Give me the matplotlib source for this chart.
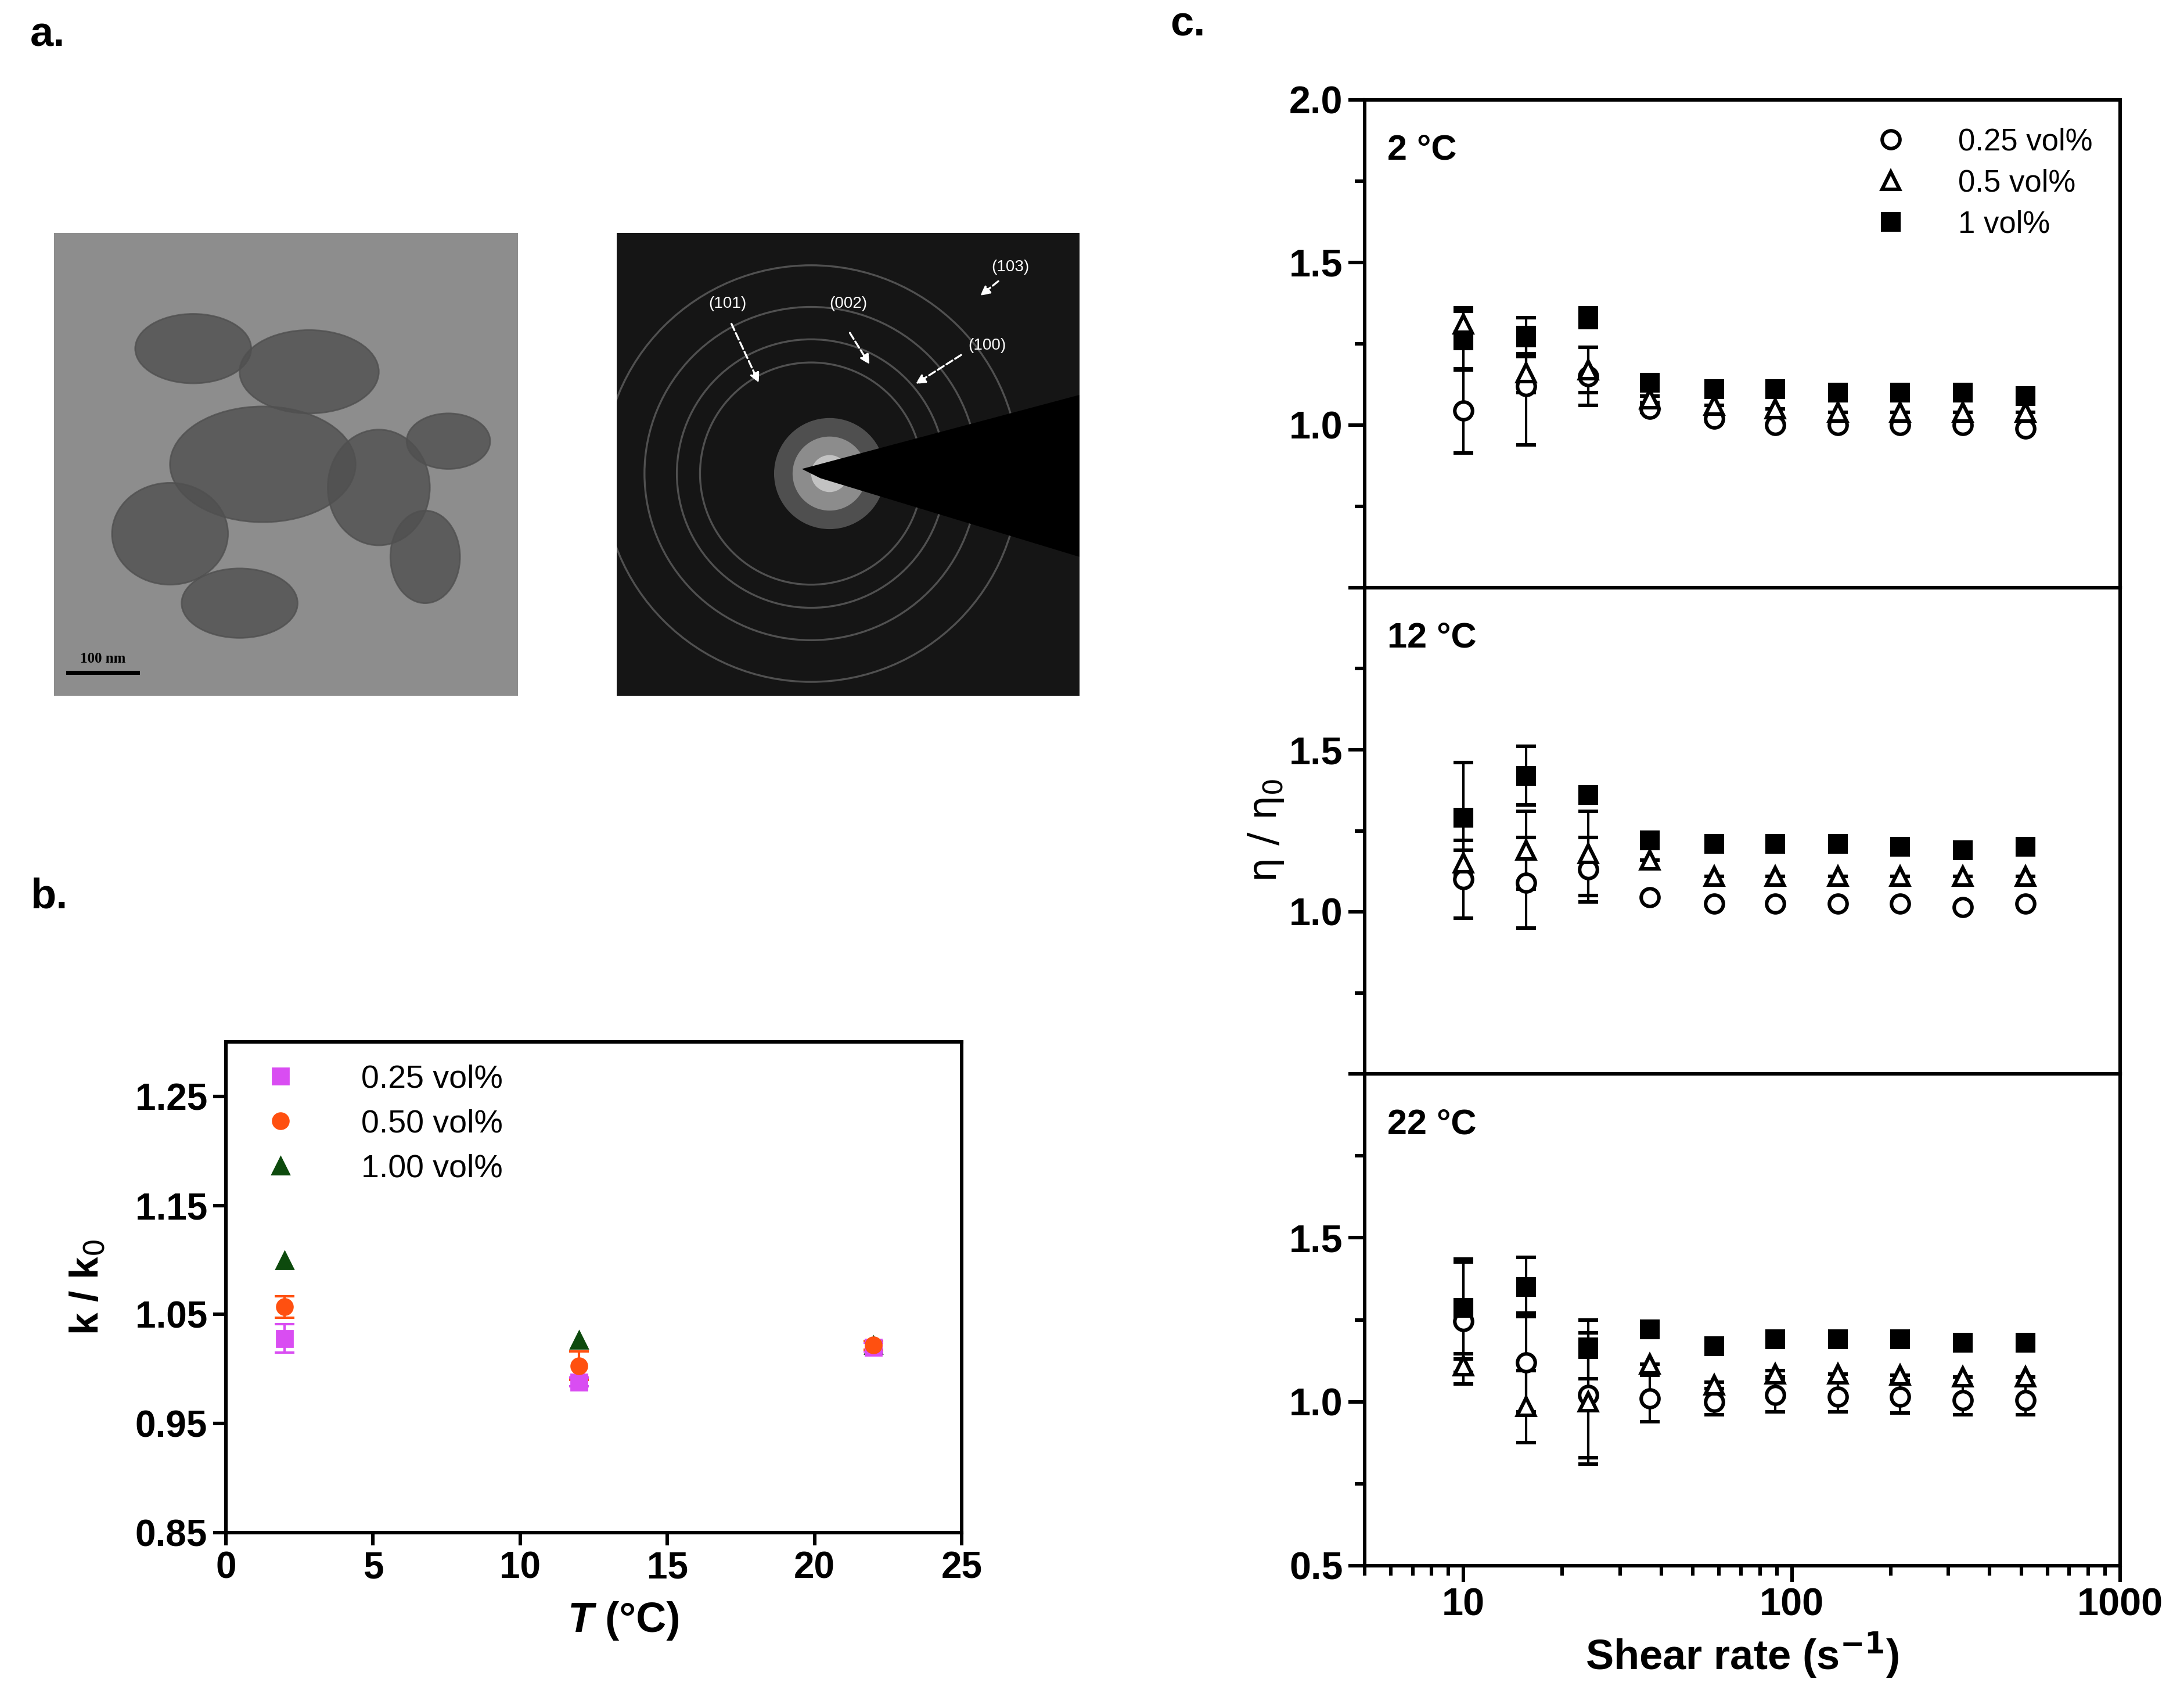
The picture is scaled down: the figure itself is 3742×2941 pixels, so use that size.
import numpy as np
import matplotlib
matplotlib.use('Agg')
import matplotlib.pyplot as plt
import matplotlib.patches as mpatches
from matplotlib.lines import Line2D
from matplotlib.ticker import FixedLocator, NullFormatter, NullLocator

plt.rcParams.update({
    'font.family': ['Liberation Sans Narrow', 'Liberation Sans', 'DejaVu Sans'],
    'axes.linewidth': 2.2,
})

W, H, DPI = 3742, 2941, 200

# ---------------------------------------------------------------------------
# Data: panel b (thermal conductivity ratio)
# ---------------------------------------------------------------------------
temps = [2, 12, 22]
k_025 = [1.028, 0.988, 1.020]
k_025_err = [0.013, 0.004, 0.004]
k_050 = [1.057, 1.003, 1.022]
k_050_err = [0.010, 0.013, 0.004]
k_100 = [1.100, 1.027, 1.022]
k_labels = ['0.25 vol%', '0.50 vol%', '1.00 vol%']

# ---------------------------------------------------------------------------
# Data: panel c (relative viscosity vs shear rate)
# ---------------------------------------------------------------------------
shear = [10, 15.5, 24, 37, 58, 89, 138, 214, 332, 515]
temp_labels = ['2 \u00b0C', '12 \u00b0C', '22 \u00b0C']
conc_labels = ['0.25 vol%', '0.5 vol%', '1 vol%']

eta_025 = [
    [1.044, 1.12, 1.15, 1.05, 1.02, 1.00, 1.00, 1.00, 1.00, 0.99],
    [1.10, 1.09, 1.13, 1.045, 1.025, 1.025, 1.025, 1.025, 1.015, 1.025],
    [1.245, 1.12, 1.02, 1.01, 1.00, 1.02, 1.015, 1.015, 1.005, 1.005],
]
eta_025_err = [
    [0.13, 0.18, 0.09, 0.01, 0.01, 0.0, 0.0, 0.0, 0.0, 0.0],
    [0.12, 0.14, 0.10, 0.0, 0.0, 0.0, 0.0, 0.0, 0.0, 0.0],
    [0.19, 0.15, 0.19, 0.07, 0.04, 0.05, 0.045, 0.05, 0.045, 0.045],
]
eta_050 = [
    [1.31, 1.16, 1.17, 1.08, 1.06, 1.05, 1.04, 1.04, 1.04, 1.04],
    [1.15, 1.19, 1.18, 1.16, 1.11, 1.11, 1.11, 1.11, 1.11, 1.11],
    [1.11, 0.985, 1.00, 1.115, 1.05, 1.085, 1.085, 1.08, 1.075, 1.075],
]
eta_050_err = [
    [0.05, 0.06, 0.07, 0.01, 0.0, 0.0, 0.0, 0.0, 0.0, 0.0],
    [0.04, 0.12, 0.13, 0.0, 0.0, 0.0, 0.0, 0.0, 0.0, 0.0],
    [0.02, 0.11, 0.19, 0.0, 0.01, 0.01, 0.0, 0.0, 0.0, 0.0],
]
eta_100 = [
    [1.26, 1.27, 1.33, 1.13, 1.11, 1.11, 1.10, 1.10, 1.10, 1.09],
    [1.29, 1.42, 1.36, 1.22, 1.21, 1.21, 1.21, 1.20, 1.19, 1.20],
    [1.287, 1.35, 1.16, 1.22, 1.17, 1.19, 1.19, 1.19, 1.18, 1.18],
]
eta_100_err = [
    [0.09, 0.06, 0.03, 0.0, 0.0, 0.0, 0.0, 0.0, 0.0, 0.0],
    [0.17, 0.09, 0.0, 0.0, 0.0, 0.01, 0.0, 0.0, 0.0, 0.0],
    [0.14, 0.09, 0.09, 0.0, 0.0, 0.0, 0.0, 0.0, 0.0, 0.0],
]

# diffraction ring labels
ring_labels = ['(101)', '(002)', '(100)', '(103)']


def fig_rect(x0, y0, x1, y1):
    """pixel box (top-left origin) -> figure fraction rect"""
    return [x0 / W, 1 - y1 / H, (x1 - x0) / W, (y1 - y0) / H]


fig = plt.figure(figsize=(W / DPI, H / DPI), dpi=DPI)

# ---------------------------------------------------------------------------
# Panel a: micrograph placeholders
# ---------------------------------------------------------------------------
ax_tem = fig.add_axes(fig_rect(93, 401, 892, 1198))
ax_tem.set_xlim(0, 1)
ax_tem.set_ylim(0, 1)
ax_tem.add_patch(mpatches.Rectangle((0, 0), 1, 1, color='#8d8d8d'))
blobs = [(0.30, 0.75, 0.25, 0.15), (0.55, 0.70, 0.30, 0.18), (0.45, 0.50, 0.40, 0.25),
         (0.25, 0.35, 0.25, 0.22), (0.70, 0.45, 0.22, 0.25), (0.40, 0.20, 0.25, 0.15),
         (0.80, 0.30, 0.15, 0.20), (0.85, 0.55, 0.18, 0.12)]
for bx, by, bw, bh in blobs:
    ax_tem.add_patch(mpatches.Ellipse((bx, by), bw, bh, color='#505050', alpha=0.8))
ax_tem.plot([0.03, 0.18], [0.05, 0.05], color='black', lw=2.5)
ax_tem.text(0.105, 0.065, '100 nm', ha='center', va='bottom', fontsize=9,
            family='Liberation Serif', fontweight='bold')
ax_tem.set_xticks([])
ax_tem.set_yticks([])
for s in ax_tem.spines.values():
    s.set_visible(False)

ax_saed = fig.add_axes(fig_rect(1062, 401, 1859, 1198))
ax_saed.set_xlim(0, 1)
ax_saed.set_ylim(0, 1)
ax_saed.set_facecolor('#151515')
cx, cy = 0.42, 0.48
for r, a in [(0.12, 0.5), (0.08, 0.7), (0.04, 0.95)]:
    ax_saed.add_patch(mpatches.Circle((cx + 0.04, cy), r, color='white', alpha=a * 0.5, lw=0))
for r in [0.24, 0.29, 0.36, 0.45]:
    ax_saed.add_patch(mpatches.Circle((cx, cy), r, fill=False, ec='#6a6a6a', lw=1.2, alpha=0.7))
ax_saed.add_patch(mpatches.Polygon([(0.40, 0.49), (1.0, 0.65), (1.0, 0.30), (0.44, 0.47)],
                                   closed=True, color='black', lw=0))
arrow_kw = dict(arrowstyle='-|>', color='white', lw=1.2, linestyle='--', mutation_scale=12)
ax_saed.annotate('', xy=(0.31, 0.67), xytext=(0.245, 0.81), arrowprops=arrow_kw)
ax_saed.annotate('', xy=(0.55, 0.71), xytext=(0.50, 0.79), arrowprops=arrow_kw)
ax_saed.annotate('', xy=(0.64, 0.67), xytext=(0.75, 0.74), arrowprops=arrow_kw)
ax_saed.annotate('', xy=(0.78, 0.86), xytext=(0.83, 0.90), arrowprops=arrow_kw)
txt_kw = dict(color='white', fontsize=10, ha='center', va='bottom', family='Liberation Sans')
ax_saed.text(0.24, 0.83, ring_labels[0], **txt_kw)
ax_saed.text(0.50, 0.83, ring_labels[1], **txt_kw)
ax_saed.text(0.80, 0.74, ring_labels[2], **txt_kw)
ax_saed.text(0.85, 0.91, ring_labels[3], **txt_kw)
ax_saed.set_xticks([])
ax_saed.set_yticks([])
for s in ax_saed.spines.values():
    s.set_visible(False)

# ---------------------------------------------------------------------------
# Panel b
# ---------------------------------------------------------------------------
axb = fig.add_axes(fig_rect(389, 1794, 1656, 2639))
b_colors = ['#d94df2', '#ff5010', '#0d4a0d']
axb.errorbar(temps, k_025, yerr=k_025_err, fmt='s', color=b_colors[0], ms=10,
             capsize=6, elinewidth=1.5, capthick=1.5)
axb.errorbar(temps, k_050, yerr=k_050_err, fmt='o', color=b_colors[1], ms=10,
             capsize=6, elinewidth=1.5, capthick=1.5)
axb.plot(temps, k_100, '^', color=b_colors[2], ms=11)
axb.set_xlim(0, 25)
axb.set_ylim(0.85, 1.30)
axb.set_xticks([0, 5, 10, 15, 20, 25])
axb.set_yticks([0.85, 0.95, 1.05, 1.15, 1.25])
axb.set_yticklabels(['0.85', '0.95', '1.05', '1.15', '1.25'])
axb.tick_params(labelsize=23, width=2.2, length=8)
for lab in axb.get_xticklabels() + axb.get_yticklabels():
    lab.set_fontweight('bold')
axb.set_ylabel('k / k$_0$', fontsize=25, fontweight='bold', family='Liberation Sans', labelpad=18)
axb.text(0.5, -0.18, 'T', transform=axb.transAxes, ha='right', va='center', fontsize=26,
         fontweight='bold', fontstyle='italic', family='Liberation Sans')
axb.text(0.5, -0.18, ' (\u00b0C)', transform=axb.transAxes, ha='left', va='center', fontsize=26,
         fontweight='bold', family='Liberation Sans')
b_handles = [Line2D([], [], ls='', marker=m, color=c, ms=s)
             for m, c, s in zip(['s', 'o', '^'], b_colors, [10, 10, 11])]
axb.legend(b_handles, k_labels, loc='upper left', frameon=False, handletextpad=1.5,
           borderaxespad=0.3, labelspacing=0.45, prop={'family': 'Liberation Sans', 'size': 20})

# ---------------------------------------------------------------------------
# Panel c
# ---------------------------------------------------------------------------
c_rows = [(172, 1012), (1012, 1849), (1849, 2696)]
c_axes = []
for i, (y0, y1) in enumerate(c_rows):
    ax = fig.add_axes(fig_rect(2350, y0, 3651, y1))
    c_axes.append(ax)
    for vals, errs, mk, fc, ms in [
        (eta_025, eta_025_err, 'o', 'white', 11),
        (eta_050, eta_050_err, '^', 'white', 11),
        (eta_100, eta_100_err, 's', 'black', 10),
    ]:
        ax.errorbar(shear, vals[i], yerr=errs[i], fmt=mk, mfc=fc, mec='black', mew=2.2,
                    ms=ms, ecolor='black', elinewidth=1.5, capsize=6, capthick=1.5)
    ax.set_xscale('log')
    ax.set_xlim(5, 1000)
    ax.set_ylim(0.5, 2.0)
    ax.yaxis.set_major_locator(FixedLocator([0.5, 1.0, 1.5, 2.0]))
    ax.yaxis.set_minor_locator(FixedLocator([0.75, 1.25, 1.75]))
    shown = [['', '1.0', '1.5', '2.0'], ['', '1.0', '1.5', ''], ['0.5', '1.0', '1.5', '']][i]
    ax.set_yticklabels(shown)
    ax.tick_params(axis='y', which='major', labelsize=24, width=2.2, length=10)
    ax.tick_params(axis='y', which='minor', width=2.2, length=6)
    for lab in ax.get_yticklabels():
        lab.set_fontweight('bold')
    ax.text(0.03, 0.93, temp_labels[i], transform=ax.transAxes, ha='left', va='top',
            fontsize=22, fontweight='bold')
    if i < 2:
        ax.xaxis.set_major_locator(NullLocator())
        ax.xaxis.set_minor_locator(NullLocator())
    else:
        ax.set_xticks([10, 100, 1000])
        ax.set_xticklabels(['10', '100', '1000'])
        ax.xaxis.set_minor_formatter(NullFormatter())
        ax.tick_params(axis='x', which='major', labelsize=24, width=2.2, length=10)
        ax.tick_params(axis='x', which='minor', width=2.2, length=6)
        for lab in ax.get_xticklabels():
            lab.set_fontweight('bold')
        ax.set_xlabel('Shear rate (s$^{\\mathbf{-1}}$)', fontsize=26, fontweight='bold')

c_handles = [Line2D([], [], ls='', marker=m, mfc=fc, mec='black', mew=2.2, ms=s)
             for m, fc, s in zip(['o', '^', 's'], ['white', 'white', 'black'], [11, 11, 10])]
c_axes[0].legend(c_handles, conc_labels, loc='upper right', frameon=False,
                 prop={'family': 'Liberation Sans', 'size': 19},
                 handletextpad=1.2, labelspacing=0.4)
fig.text(2180 / W, 1 - 1430 / H, '\u03b7 / \u03b7$_0$', rotation=90, ha='center', va='center',
         fontsize=24, family='DejaVu Sans')

# panel letters
for lab, (px, py) in zip(['a.', 'b.', 'c.'], [(52, 60), (52, 1545), (2015, 42)]):
    fig.text(px / W, 1 - py / H, lab, fontsize=26, fontweight='bold', family='Liberation Sans',
             ha='left', va='center')

fig.savefig('out.png', dpi=DPI)
